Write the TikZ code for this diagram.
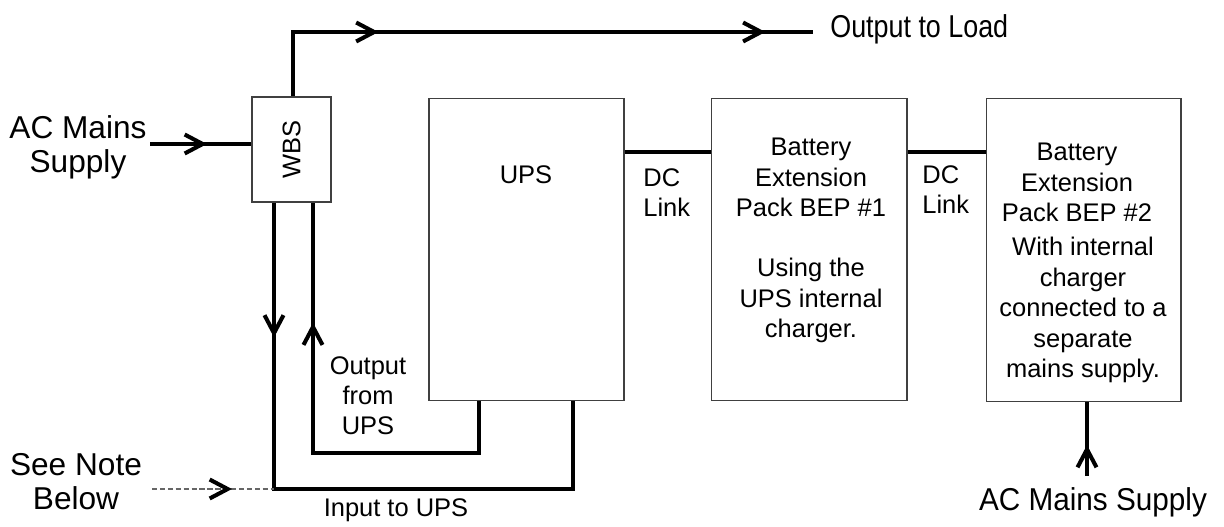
\documentclass[tikz,border=0pt]{standalone}
\usepackage{fontspec}
\setmainfont{Liberation Sans}
\usetikzlibrary{positioning,arrows.meta,decorations.markings}
\tikzset{
box/.style={
draw=black!75,
line width=0.6pt,
inner sep=0pt
},
wire/.style={
line width=2.3pt
},
note/.style={
line width=0.6pt,
black!60,
dash pattern=on 3pt off 1.5pt
},
small/.style={
inner sep=0pt,
align=center,
font=\fontsize{14.5}{17.3}\selectfont
},
big/.style={
inner sep=0pt,
align=center,
font=\fontsize{18}{19.3}\selectfont
},
barb/.tip={Straight Barb[length=3.6mm,width=3.8mm]},
arrowat/.style={
postaction={decorate,decoration={markings,
mark=at position #1 with {\arrow[black,solid,line width=2.3pt]{barb}}}}
}
}
\begin{document}
\begin{tikzpicture}[x=0.02cm,y=-0.02cm]
\useasboundingbox (0,0) rectangle (1224,527);

% blocks
\node[box,minimum width=1.58cm,minimum height=2.1cm](wbs) at (291.5,149.5){\rotatebox{90}{\fontsize{14.5}{17.3}\selectfont WBS}};
\node[box,minimum width=3.9cm,minimum height=6.06cm](ups) at (526.5,249.5){};
\node[box,minimum width=3.92cm,minimum height=6.06cm](bep1) at (809,249.5){};
\node[box,minimum width=3.9cm,minimum height=6.08cm](bep2) at (1083.5,250){};

% texts
\node[small,anchor=north](upslbl) at (526,165){UPS};
\node[small,anchor=north](bep1lbl) at (811,138){Battery\\Extension\\Pack BEP \#1\\[17pt]Using the\\UPS internal\\charger.};
\node[small,anchor=north](bep2lbl) at (1077,143){Battery\\Extension\\Pack BEP \#2};
\node[small,anchor=north](bep2note) at (1083,237){With internal\\charger\\connected to a\\separate\\mains supply.};
\node[small,anchor=north west,align=left](dc1) at (643,168){DC\\Link};
\node[small,anchor=north west,align=left](dc2) at (922,165){DC\\Link};
\node[small,anchor=north](outups) at (368,356){Output\\from\\UPS};
\node[small,anchor=north](inups) at (396,498){Input to UPS};
\node[big,anchor=north](acleft) at (78,115){AC Mains\\Supply};
\node[big,anchor=north](seenote) at (76,453){See Note\\Below};
\node[big,anchor=north west](loadlbl) at (830,14){\scalebox{0.85}[1]{Output to Load}};
\node[big,anchor=north](acright) at (1093,487){\scalebox{0.94}[1]{AC Mains Supply}};

% corner points
\coordinate (acin) at (150,144);
\coordinate (outtop) at (293,32);
\coordinate (load) at (813,32);
\coordinate (inbl) at (274,489);
\coordinate (inbr) at (573,489);
\coordinate (obr) at (479,453);
\coordinate (obl) at (313,453);
\coordinate (dc) at (0,152);
\coordinate (notein) at (152,489);
\coordinate (acbot) at (1087,476);

% connectors
\draw[wire,arrowat=1.14cm](acin)--(acin -| wbs.west);
\draw[wire,arrowat=3cm,arrowat=10.74cm](wbs.north -| outtop)--(outtop)--(load);
\draw[wire,arrowat=2.7cm](wbs.south -| inbl)--(inbl)--(inbr)--(inbr |- ups.south);
\draw[wire,arrowat=6.96cm](ups.south -| obr)--(obr)--(obl)--(obl |- wbs.south);
\foreach \a/\b in {ups/bep1,bep1/bep2}
\draw[wire](\a.east |- dc)--(\b.west |- dc);
\draw[note,arrowat=1.6cm](notein)--(inbl);
\draw[wire,arrowat=0.62cm](acbot)--(acbot |- bep2.south);

\end{tikzpicture}
\end{document}
